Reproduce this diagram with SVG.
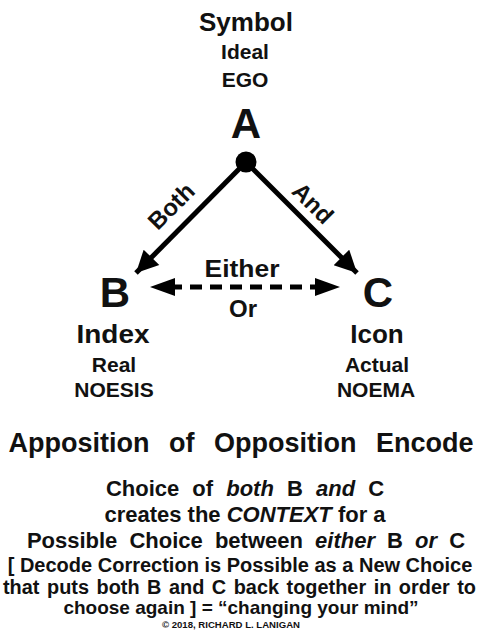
<svg xmlns="http://www.w3.org/2000/svg" width="478" height="631" viewBox="0 0 478 631">
<style>
text{font-family:"Liberation Sans",Arial,sans-serif;font-weight:bold;fill:#111;text-anchor:middle}
.t1{font-size:26px}
.t2{font-size:21px}
.big{font-size:42px}
.lbl{font-size:24px}
.body{font-size:22px}
.ln{stroke:#000;stroke-width:5;fill:none}
</style>
<defs>
<marker id="ah" viewBox="0 0 10 10" refX="10" refY="5" markerWidth="5" markerHeight="4.4" orient="auto" markerUnits="strokeWidth">
<path d="M0,0 L10,5 L0,10 z" fill="#000"/>
</marker>
</defs>
<rect width="478" height="631" fill="#fff"/>
<g id="nodeA">
<text class="t1" x="246" y="31" font-size="27">Symbol</text>
<text class="t2" x="245" y="59">Ideal</text>
<text class="t2" x="245" y="87">EGO</text>
<text class="big" x="246" y="138">A</text>
<circle cx="246" cy="162" r="10.5" fill="#000"/>
</g>
<g id="nodeB">
<text class="big" x="115" y="307" font-size="40">B</text>
<text class="t1" x="113" y="343" textLength="73" lengthAdjust="spacingAndGlyphs">Index</text>
<text class="t2" x="114" y="372">Real</text>
<text class="t2" x="114" y="397">NOESIS</text>
</g>
<g id="nodeC">
<text class="big" x="378" y="307" font-size="40">C</text>
<text class="t1" x="377" y="343">Icon</text>
<text class="t2" x="377" y="372">Actual</text>
<text class="t2" x="376" y="397">NOEMA</text>
</g>
<g id="connectors">
<line class="ln" x1="246" y1="162" x2="136" y2="273" marker-end="url(#ah)"/>
<line class="ln" x1="246" y1="162" x2="357" y2="273" marker-end="url(#ah)"/>
<line class="ln" x1="170" y1="287" x2="322" y2="287" stroke-dasharray="12,8"/>
<path d="M150,287 L175,278 L175,296 z" fill="#000"/>
<path d="M340,287 L315,278 L315,296 z" fill="#000"/>
<text class="lbl" transform="translate(177,212) rotate(-45)">Both</text>
<text class="lbl" transform="translate(307,209) rotate(45)">And</text>
<text class="lbl" x="242" y="277" textLength="75" lengthAdjust="spacingAndGlyphs">Either</text>
<text class="lbl" x="243" y="317" font-size="25">Or</text>
</g>
<g id="caption">
<text x="241" y="452" font-size="27" word-spacing="12">Apposition of Opposition Encode</text>
<text class="body" x="245" y="496" word-spacing="7">Choice of <tspan font-style="italic">both</tspan> B <tspan font-style="italic">and</tspan> C</text>
<text class="body" x="245" y="522">creates the <tspan font-style="italic">CONTEXT</tspan> for a</text>
<text class="body" x="246" y="548" word-spacing="6">Possible Choice between <tspan font-style="italic" word-spacing="0">either</tspan> B <tspan font-style="italic">or</tspan> C</text>
<text x="240" y="572" font-size="20">[ Decode Correction is Possible as a New Choice</text>
<text x="3" y="594" font-size="20" word-spacing="2" style="text-anchor:start" textLength="473" lengthAdjust="spacingAndGlyphs">that puts both B and C back together in order to</text>
<text x="241" y="614" font-size="19">choose again ] = “changing your mind”</text>
<text x="231" y="628" font-size="9" textLength="138" lengthAdjust="spacingAndGlyphs">©  2018, RICHARD L. LANIGAN</text>
</g>
</svg>
